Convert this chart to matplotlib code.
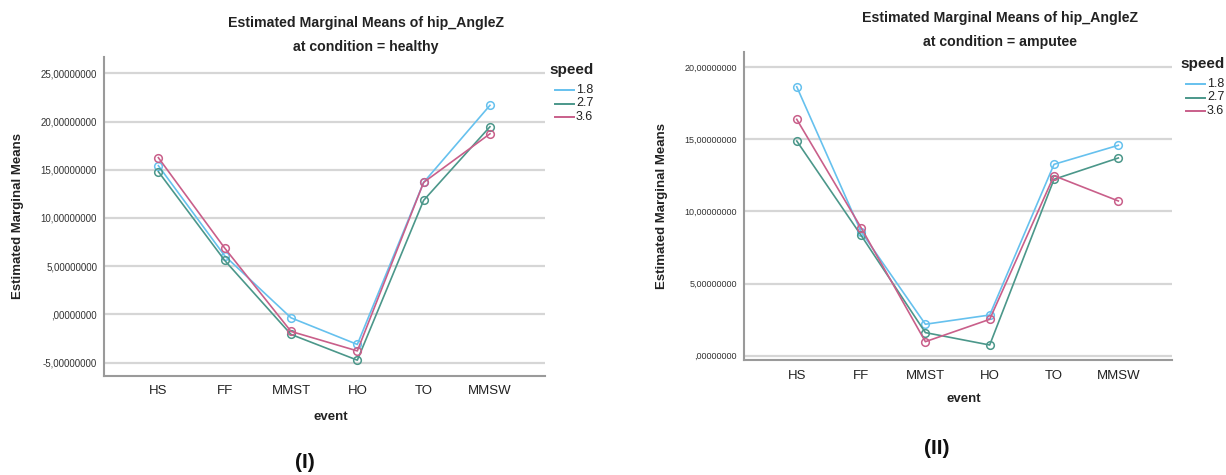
import matplotlib
matplotlib.use("Agg")
import matplotlib.pyplot as plt
from matplotlib.lines import Line2D
from matplotlib.ticker import FuncFormatter, FixedLocator

plt.rcParams['font.family'] = ['Liberation Sans', 'DejaVu Sans']

events = ["HS", "FF", "MMST", "HO", "TO", "MMSW"]
speeds = ["1.8", "2.7", "3.6"]

# Estimated marginal means of hip_AngleZ, healthy condition
healthy_18 = [15.42, 6.08, -0.35, -3.11, 13.69, 21.68]
healthy_27 = [14.80, 5.60, -2.07, -4.74, 11.83, 19.46]
healthy_36 = [16.25, 6.88, -1.76, -3.78, 13.69, 18.73]

# Estimated marginal means of hip_AngleZ, amputee condition
amputee_18 = [18.65, 8.60, 2.18, 2.82, 13.27, 14.59]
amputee_27 = [14.89, 8.35, 1.60, 0.74, 12.23, 13.71]
amputee_36 = [16.39, 8.88, 0.97, 2.52, 12.48, 10.73]

healthy_ticks = [-5, 0, 5, 10, 15, 20, 25]
amputee_ticks = [0, 5, 10, 15, 20]

colors = ["#66c1ee", "#4b978a", "#c95f8a"]
grid_color = "#d6d6d6"
spine_color = "#9a9a9a"
text_color = "#222222"

W, H = 1226, 475


def spss_fmt(v, pos=None):
    s = f"{v:.8f}".replace(".", ",")
    if s.startswith("0,"):
        s = s[1:]
    elif s.startswith("-0,"):
        s = "-" + s[2:]
    return s


def fx(px):
    return px / W


def fy(py):
    return 1 - py / H


fig = plt.figure(figsize=(W / 100, H / 100), dpi=100)


def draw_panel(rect, series, ticks, ylim, cond, tick_fs, title_xy, legend_xy,
               ylab_x, xlab_y, tag, tag_xy):
    ax = fig.add_axes(rect)
    x = list(range(len(events)))
    for vals, col, lab in zip(series, colors, speeds):
        ax.plot(x, vals, color=col, lw=1.2, marker="o", ms=5.5,
                mfc="none", mec=col, mew=1.1, label=lab, zorder=3)
    ax.set_xlim(-0.82, len(events) - 1 + 0.83)
    ax.set_ylim(*ylim)
    ax.yaxis.set_major_locator(FixedLocator(ticks))
    ax.yaxis.set_major_formatter(FuncFormatter(spss_fmt))
    ax.set_xticks(x)
    ax.set_xticklabels(events, fontsize=9.5, color=text_color)
    ax.tick_params(axis="y", labelsize=tick_fs, colors="#333333", length=0, pad=5)
    ax.tick_params(axis="x", length=0, pad=7)
    ax.grid(axis="y", color=grid_color, lw=1.6, zorder=0)
    ax.set_axisbelow(True)
    for side in ("top", "right"):
        ax.spines[side].set_visible(False)
    for side in ("left", "bottom"):
        ax.spines[side].set_color(spine_color)
        ax.spines[side].set_linewidth(1.5)

    fig.text(fx(title_xy[0]), fy(title_xy[1]), "Estimated Marginal Means of hip_AngleZ",
             ha="center", va="center", fontsize=10.2, fontweight="bold", color=text_color)
    fig.text(fx(title_xy[0]), fy(title_xy[1] + 24), f"at condition = {cond}",
             ha="center", va="center", fontsize=10.2, fontweight="bold", color=text_color)
    fig.text(fx(ylab_x), rect[1] + rect[3] / 2, "Estimated Marginal Means", rotation=90,
             ha="center", va="center", fontsize=9.5, fontweight="bold", color=text_color)
    fig.text(rect[0] + rect[2] / 2 + 0.005, fy(xlab_y), "event", ha="center", va="center",
             fontsize=9.5, fontweight="bold", color=text_color)
    fig.text(fx(tag_xy[0]), fy(tag_xy[1]), tag, ha="center", va="center",
             fontsize=15, fontweight="bold", color="#111111")

    # legend: bold "speed" header followed by one short line per speed level
    lx, ly = legend_xy
    fig.text(fx(lx), fy(ly), "speed", ha="left", va="center",
             fontsize=11, fontweight="bold", color=text_color)
    for i, (col, lab) in enumerate(zip(colors, speeds)):
        yy = ly + 20 + 13.5 * i
        fig.add_artist(Line2D([fx(lx + 6), fx(lx + 25)], [fy(yy), fy(yy)],
                              color=col, lw=1.4, transform=fig.transFigure))
        fig.text(fx(lx + 27), fy(yy), lab, ha="left", va="center",
                 fontsize=9, color=text_color)
    return ax


draw_panel([104 / W, 99.3 / H, 441 / W, 319 / H],
           [healthy_18, healthy_27, healthy_36], healthy_ticks, (-6.35, 26.72),
           "healthy", 7, (366, 23), (549, 70),
           18, 417, "(I)", (305, 462))

draw_panel([744 / W, 115 / H, 427.7 / W, 308 / H],
           [amputee_18, amputee_27, amputee_36], amputee_ticks, (-0.3, 21.06),
           "amputee", 6.5, (1000, 18), (1180, 64),
           662, 399, "(II)", (937, 448))

fig.savefig("out.png", dpi=100, facecolor="white")
